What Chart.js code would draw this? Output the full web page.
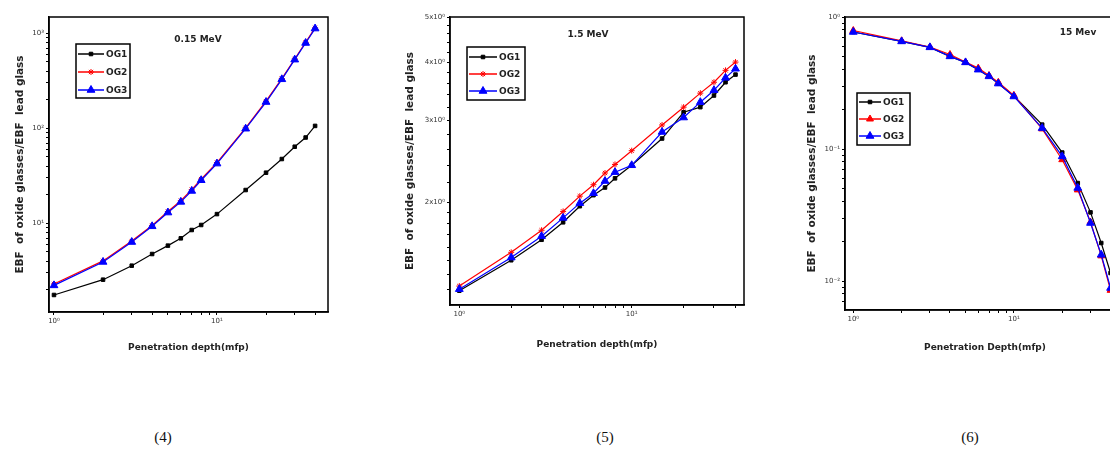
<!DOCTYPE html>
<html>
<head>
<meta charset="utf-8">
<script src="https://cdn.jsdelivr.net/npm/chart.js@4.4.0/dist/chart.umd.min.js"></script>
<style>
  body { margin: 0; width: 1110px; height: 456px; overflow: hidden; background: #fff; position: relative; }
  .box { position: absolute; top: 0; height: 370px; }
  .cap { position: absolute; top: 429px; font-family: "Liberation Serif", serif; font-size: 15px; color: #111; transform: translateX(-50%); }
</style>
</head>
<body>
<div class="box" style="left:0;width:370px"><canvas id="c1"></canvas></div>
<div class="box" style="left:370px;width:400px"><canvas id="c2"></canvas></div>
<div class="box" style="left:740px;width:400px"><canvas id="c3"></canvas></div>
<div class="cap" style="left:163px">(4)</div>
<div class="cap" style="left:605px">(5)</div>
<div class="cap" style="left:970px">(6)</div>
<script>
// penetration depth (mfp)
const depth = [1, 2, 3, 4, 5, 6, 7, 8, 10, 15, 20, 25, 30, 35, 40];

// 0.15 MeV
const og1Low = [1.76, 2.55, 3.58, 4.75, 5.82, 6.95, 8.5, 9.6, 12.5, 22.4, 34.1, 47.5, 64, 80, 106];
const og2Low = [2.3, 4.02, 6.5, 9.5, 13.3, 17.3, 22.6, 29.2, 43.6, 101, 193, 334, 537, 805, 1140];
const og3Low = [2.22, 3.92, 6.35, 9.3, 12.97, 16.8, 21.9, 28.4, 42.5, 99, 189, 328, 528, 791, 1122];

// 1.5 MeV
const og1Mid = [1.29, 1.50, 1.66, 1.81, 1.96, 2.07, 2.15, 2.25, 2.40, 2.74, 3.12, 3.20, 3.39, 3.62, 3.76];
const og2Mid = [1.32, 1.56, 1.74, 1.91, 2.06, 2.18, 2.31, 2.41, 2.58, 2.93, 3.20, 3.43, 3.62, 3.84, 4.00];
const og3Mid = [1.30, 1.52, 1.69, 1.85, 1.99, 2.09, 2.22, 2.32, 2.40, 2.83, 3.04, 3.28, 3.48, 3.70, 3.87];

// 15 MeV
const og1High = [0.77, 0.653, 0.589, 0.503, 0.453, 0.399, 0.355, 0.313, 0.252, 0.153, 0.094, 0.0552, 0.0331, 0.0194, 0.0115];
const og2High = [0.79, 0.66, 0.592, 0.52, 0.455, 0.41, 0.36, 0.32, 0.255, 0.142, 0.083, 0.049, 0.028, 0.0155, 0.0085];
const og3High = [0.77, 0.653, 0.589, 0.503, 0.453, 0.399, 0.355, 0.313, 0.250, 0.144, 0.0879, 0.0507, 0.0275, 0.0158, 0.00885];

// tick marks and labels
const xTicks = [1, 2, 3, 4, 5, 6, 7, 8, 9, 10, 20, 30, 40];
const xLabels = { 1: '10⁰', 10: '10¹' };
const yTicksLow = [2, 3, 4, 5, 6, 7, 8, 9, 10, 20, 30, 40, 50, 60, 70, 80, 90, 100, 200, 300, 400, 500, 600, 700, 800, 900, 1000];
const yLabelsLow = { 10: '10¹', 100: '10²', 1000: '10³' };
const yTicksMid = [1.3, 1.4, 1.5, 1.6, 1.7, 1.8, 1.9, 2.0, 2.2, 2.4, 2.6, 2.8, 3.0, 3.2, 3.4, 3.6, 3.8, 4.0, 4.2, 4.4, 4.6, 4.8, 5.0];
const yLabelsMid = { 2: '2x10⁰', 3: '3x10⁰', 4: '4x10⁰', 5: '5x10⁰' };
const yTicksHigh = [0.007, 0.008, 0.009, 0.01, 0.02, 0.03, 0.04, 0.05, 0.06, 0.07, 0.08, 0.09, 0.1, 0.2, 0.3, 0.4, 0.5, 0.6, 0.7, 0.8, 0.9, 1];
const yLabelsHigh = { 0.01: '10⁻²', 0.1: '10⁻¹', 1: '10⁰' };

const FONT = '"DejaVu Sans", "Liberation Sans", sans-serif';

const deco = {
  id: 'deco',
  afterDatasetsDraw(chart, args, o) {
    const ctx = chart.ctx, a = chart.chartArea;
    ctx.save();
    ctx.strokeStyle = '#000';
    ctx.lineWidth = 1.5;
    ctx.strokeRect(a.left, a.top, a.right - a.left, a.bottom - a.top);

    ctx.fillStyle = '#222';
    ctx.font = 'bold 9px ' + FONT;
    ctx.textAlign = 'center';
    ctx.textBaseline = 'middle';
    ctx.fillText(o.text, o.textX, o.textY);

    // boxed legend inside the plot
    const L = o.legend;
    ctx.fillStyle = '#fff';
    ctx.fillRect(L.x, L.y, L.w, L.h);
    ctx.strokeRect(L.x, L.y, L.w, L.h);
    chart.data.datasets.forEach((ds, i) => {
      const y = L.y + L.rowTop + i * L.rowH;
      ctx.strokeStyle = ds.borderColor;
      ctx.lineWidth = 1.5;
      ctx.beginPath();
      ctx.moveTo(L.x + 2, y);
      ctx.lineTo(L.x + 2 + L.line, y);
      ctx.stroke();
      ctx.fillStyle = ds.backgroundColor;
      ctx.lineWidth = ds.pointBorderWidth;
      Chart.helpers.drawPoint(ctx, { pointStyle: ds.pointStyle, radius: ds.pointRadius, rotation: 0, borderWidth: ds.pointBorderWidth }, L.x + 2 + L.line / 2, y);
      ctx.fillStyle = '#222';
      ctx.textAlign = 'left';
      ctx.font = 'bold 9px ' + FONT;
      ctx.fillText(ds.label, L.x + L.line + 4, y + 0.5);
    });
    ctx.restore();
  }
};

function series(label, vals, color, style, r, order) {
  return {
    label: label,
    data: depth.map((x, i) => ({ x: x, y: vals[i] })),
    borderColor: color,
    backgroundColor: color,
    pointBackgroundColor: color,
    pointBorderColor: color,
    pointStyle: style,
    pointRadius: r,
    pointBorderWidth: 1,
    borderWidth: 1.2,
    tension: 0,
    order: order
  };
}

function fixedTicks(list) {
  return function (scale) { scale.ticks = list.map(v => ({ value: v })); };
}

function makeChart(id, cfg) {
  new Chart(document.getElementById(id), {
    type: 'line',
    data: { datasets: cfg.datasets },
    plugins: [deco],
    options: {
      responsive: true,
      maintainAspectRatio: false,
      animation: false,
      layout: { padding: cfg.padding },
      plugins: {
        legend: { display: false },
        tooltip: { enabled: false },
        deco: cfg.deco
      },
      scales: {
        x: {
          type: 'logarithmic',
          min: cfg.xMin, max: cfg.xMax,
          afterBuildTicks: fixedTicks(xTicks),
          afterFit: s => { s.height = cfg.xHeight; },
          grid: { drawOnChartArea: false, drawTicks: true, tickLength: 3, color: '#000' },
          border: { display: true, color: '#000', width: 1.5 },
          ticks: {
            autoSkip: false, maxRotation: 0, padding: 2, color: '#333',
            font: { size: 7, family: FONT },
            callback: v => xLabels[v] || ''
          },
          title: {
            display: true, text: cfg.xTitle, color: '#222',
            font: { size: 9, weight: 'bold', family: FONT },
            padding: { top: 0, bottom: cfg.xTitlePad }
          }
        },
        y: {
          type: 'logarithmic',
          min: cfg.yMin, max: cfg.yMax,
          afterBuildTicks: fixedTicks(cfg.yTicks),
          afterFit: s => { s.width = cfg.yWidth; },
          grid: { drawOnChartArea: false, drawTicks: true, tickLength: 3, color: '#000' },
          border: { display: true, color: '#000', width: 1.5 },
          ticks: {
            autoSkip: false, padding: 2, color: '#333',
            font: { size: 7, family: FONT },
            callback: v => cfg.yLabels[v] || ''
          },
          title: {
            display: true, text: 'EBF  of oxide glasses/EBF  lead glass', color: '#222',
            font: { size: 10.5, weight: 'bold', family: FONT },
            padding: { top: cfg.yTitlePad, bottom: 0 }
          }
        }
      }
    }
  });
}

makeChart('c1', {
  datasets: [
    series('OG1', og1Low, '#000000', 'rect', 2.5, 2),
    series('OG2', og2Low, '#ff0000', 'star', 3, 1),
    series('OG3', og3Low, '#0000ff', 'triangle', 4.5, 0)
  ],
  padding: { left: 0, top: 17, right: 42, bottom: 8 },
  xHeight: 50, yWidth: 49,
  xMin: 0.932, xMax: 48, yMin: 1.165, yMax: 1485,
  yTicks: yTicksLow, yLabels: yLabelsLow,
  xTitle: 'Penetration depth(mfp)', xTitlePad: 9, yTitlePad: 14,
  deco: {
    text: '0.15 MeV', textX: 198, textY: 40,
    legend: { x: 76, y: 44, w: 54, h: 54, rowTop: 10, rowH: 18, line: 26 }
  }
});

makeChart('c2', {
  datasets: [
    series('OG1', og1Mid, '#000000', 'rect', 2.5, 2),
    series('OG2', og2Mid, '#ff0000', 'star', 3, 1),
    series('OG3', og3Mid, '#0000ff', 'triangle', 4.5, 0)
  ],
  padding: { left: 0, top: 17, right: 26, bottom: 10 },
  xHeight: 55, yWidth: 80,
  xMin: 0.883, xMax: 44.8, yMin: 1.202, yMax: 5,
  yTicks: yTicksMid, yLabels: yLabelsMid,
  xTitle: 'Penetration depth(mfp)', xTitlePad: 10, yTitlePad: 34,
  deco: {
    text: '1.5 MeV', textX: 218, textY: 35,
    legend: { x: 97, y: 47, w: 58, h: 53, rowTop: 10, rowH: 17, line: 28 }
  }
});

makeChart('c3', {
  datasets: [
    series('OG1', og1High, '#000000', 'rect', 2.5, 2),
    series('OG2', og2High, '#ff0000', 'triangle', 4, 1),
    series('OG3', og3High, '#0000ff', 'triangle', 4.5, 0)
  ],
  padding: { left: 0, top: 17, right: 15, bottom: 10 },
  xHeight: 50, yWidth: 105,
  xMin: 0.888, xMax: 49.2, yMin: 0.00603, yMax: 1,
  yTicks: yTicksHigh, yLabels: yLabelsHigh,
  xTitle: 'Penetration Depth(mfp)', xTitlePad: 7, yTitlePad: 66,
  deco: {
    text: '15 Mev', textX: 338, textY: 33,
    legend: { x: 117, y: 93, w: 53, h: 52, rowTop: 9, rowH: 17, line: 22 }
  }
});
</script>
</body>
</html>
